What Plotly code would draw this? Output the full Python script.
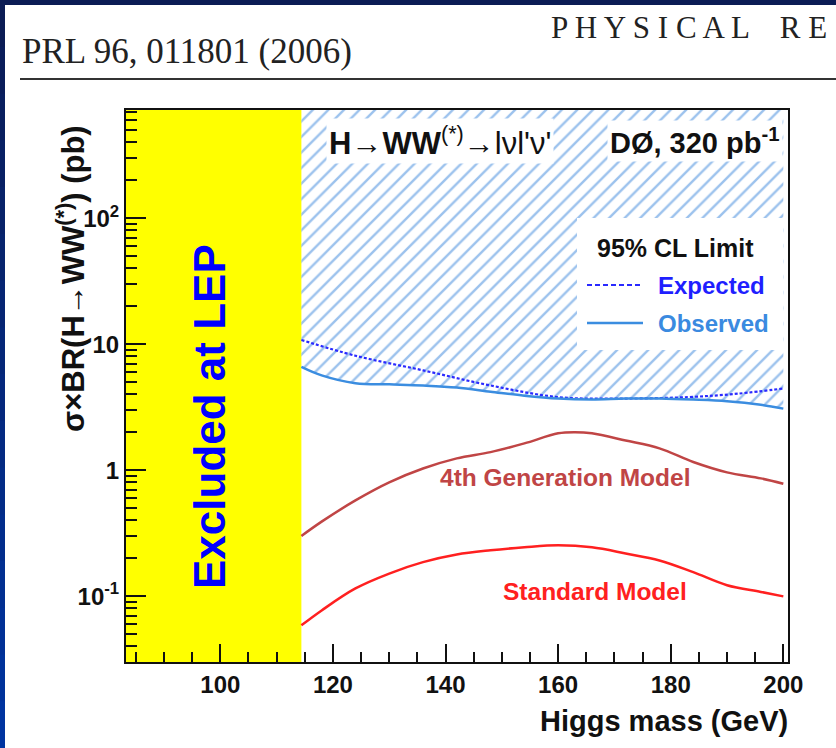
import plotly.graph_objects as go

# ---- data (Higgs mass in GeV, cross section x BR in pb) ----
mass_obs = [114.4, 118, 124, 130, 136, 142, 148, 154, 160, 166, 172, 178, 184, 190, 196, 200]
obs_limit = [6.6, 5.65, 4.9, 4.8, 4.7, 4.53, 4.2, 3.9, 3.7, 3.64, 3.7, 3.7, 3.63, 3.52, 3.3, 3.08]

mass_exp = [114.4, 124, 136, 148, 160, 171, 183, 192, 200]
exp_limit = [10.8, 8.1, 6.2, 4.7, 3.8, 3.7, 3.8, 4.05, 4.45]

mass_4th = [114.4, 118, 124, 130, 136, 142, 148, 154, 160, 163, 166, 172, 178, 184, 190, 196, 200]
xsec_4th = [0.30, 0.39, 0.575, 0.80, 1.03, 1.24, 1.39, 1.63, 1.96, 2.0, 1.96, 1.72, 1.49, 1.16, 0.96, 0.86, 0.78]

mass_sm = [114.4, 118, 124, 130, 136, 142, 148, 154, 160, 166, 172, 178, 184, 190, 196, 200]
xsec_sm = [0.0586, 0.077, 0.115, 0.151, 0.186, 0.214, 0.231, 0.244, 0.253, 0.244, 0.218,
           0.192, 0.155, 0.122, 0.108, 0.0995]

lep_limit = 114.4
x_range = [83.25, 200.83]
y_range_log = [-1.523, 2.859]

x_tickvals = [100, 120, 140, 160, 180, 200]
x_minor = [v for v in range(85, 201, 5) if v not in x_tickvals]
y_tickvals = [0.1, 1, 10, 100]
y_ticktext = ["10<sup>-1</sup>", "1", "10", "10<sup>2</sup>"]
y_minor = [k * 10.0 ** e for e in range(-2, 3) for k in range(2, 10)]

# ---- page geometry ----
W, H = 836, 748
ML, MR, MT, MB = 126, 48, 110, 86
PW, PH = W - ML - MR, H - MT - MB


def pxx(p):
    return (p - ML) / PW


def pxy(p):
    return (H - MB - p) / PH


SANS = "Liberation Sans, Arial, Helvetica, sans-serif"
SERIF = "Liberation Serif, Times New Roman, serif"

fig = go.Figure()

# upper edge of the excluded (hatched) region
fig.add_trace(go.Scatter(x=[lep_limit, mass_obs[-1]], y=[1e3, 1e3], mode="lines",
                         line=dict(width=0, color="rgba(0,0,0,0)"), hoverinfo="skip"))
# hatched area above the observed limit
fig.add_trace(go.Scatter(x=mass_obs, y=obs_limit, mode="lines", line_shape="spline",
                         line=dict(width=0, color="rgba(0,0,0,0)"),
                         fill="tonexty", fillcolor="rgba(255,255,255,0)",
                         fillpattern=dict(shape="/", size=11, solidity=0.22,
                                          fgcolor="#3a86dc", bgcolor="rgba(255,255,255,0)"),
                         hoverinfo="skip"))
# limits
fig.add_trace(go.Scatter(x=mass_exp, y=exp_limit, mode="lines", line_shape="spline",
                         line=dict(color="#2a2aff", width=2.2, dash="3px,2px")))
fig.add_trace(go.Scatter(x=mass_obs, y=obs_limit, mode="lines", line_shape="spline",
                         line=dict(color="#3b8de0", width=2.5)))
# model predictions
fig.add_trace(go.Scatter(x=mass_4th, y=xsec_4th, mode="lines", line_shape="spline",
                         line=dict(color="#c04545", width=2.5)))
fig.add_trace(go.Scatter(x=mass_sm, y=xsec_sm, mode="lines", line_shape="spline",
                         line=dict(color="#ff2020", width=2.5)))

shapes = []
# LEP exclusion band
shapes.append(dict(type="rect", xref="x", yref="paper", x0=x_range[0], x1=lep_limit,
                   y0=0, y1=1, fillcolor="#ffff00", line=dict(width=0), layer="below"))
# legend panel
shapes.append(dict(type="rect", xref="paper", yref="paper", x0=pxx(577), x1=pxx(783),
                   y0=pxy(350), y1=pxy(218), fillcolor="white", line=dict(width=0),
                   layer="above"))
shapes.append(dict(type="line", xref="paper", yref="paper", x0=pxx(587), x1=pxx(642),
                   y0=pxy(285), y1=pxy(285),
                   line=dict(color="#2a2aff", width=2.2, dash="5px,3px"), layer="above"))
shapes.append(dict(type="line", xref="paper", yref="paper", x0=pxx(587), x1=pxx(643),
                   y0=pxy(323), y1=pxy(323),
                   line=dict(color="#3b8de0", width=2.5), layer="above"))
# journal header rule
shapes.append(dict(type="line", xref="paper", yref="paper", x0=pxx(20), x1=pxx(W),
                   y0=pxy(79), y1=pxy(79), line=dict(color="#333333", width=2)))
# slide frame: top bar and shaded left bar
shapes.append(dict(type="rect", xref="paper", yref="paper", x0=pxx(0), x1=pxx(W),
                   y0=pxy(5), y1=pxy(0), fillcolor="#0b1c55", line=dict(width=0)))
nseg = 16
c0, c1 = (11, 28, 85), (0, 52, 160)
for i in range(nseg):
    t = i / (nseg - 1)
    col = "rgb({},{},{})".format(*[int(a + (b - a) * t) for a, b in zip(c0, c1)])
    shapes.append(dict(type="rect", xref="paper", yref="paper", x0=pxx(0), x1=pxx(5),
                       y0=pxy(H * (i + 1) / nseg + 1), y1=pxy(H * i / nseg),
                       fillcolor=col, line=dict(width=0)))

annotations = [
    dict(text="PRL 96, 011801 (2006)", xref="paper", yref="paper", x=pxx(20), y=pxy(51),
         xanchor="left", yanchor="middle", showarrow=False,
         font=dict(family=SERIF, size=35, color="#222222")),
    dict(text="P H Y S I C A L \u00a0\u00a0\u00a0R E", xref="paper", yref="paper",
         x=pxx(549), y=pxy(27), xanchor="left", yanchor="middle", showarrow=False,
         font=dict(family=SERIF, size=31, color="#222222")),
    dict(text="σ×BR(H→WW<sup>(*)</sup>) (pb)", xref="paper", yref="paper",
         x=pxx(71), y=pxy(279), xanchor="center", yanchor="middle", textangle=-90,
         showarrow=False, font=dict(family=SANS, size=31, color="#111111", weight="bold")),
    dict(text="Higgs mass (GeV)", xref="paper", yref="paper", x=pxx(790), y=pxy(721),
         xanchor="right", yanchor="middle", showarrow=False,
         font=dict(family=SANS, size=29, color="#111111", weight="bold")),
    dict(text="Excluded at LEP", xref="paper", yref="paper", x=pxx(209), y=pxy(417),
         xanchor="center", yanchor="middle", textangle=-90, showarrow=False,
         font=dict(family=SANS, size=44, color="#0000ff", weight="bold")),
    dict(text="<b>H</b>→<b>WW</b><sup>(*)</sup>→lνl'ν'", xref="paper", yref="paper",
         x=pxx(440), y=pxy(141), xanchor="center", yanchor="middle", showarrow=False,
         bgcolor="white", borderpad=2,
         font=dict(family=SANS, size=31, color="#111111")),
    dict(text="DØ, 320 pb<sup>-1</sup>", xref="paper", yref="paper", x=pxx(783),
         y=pxy(141), xanchor="right", yanchor="middle", showarrow=False,
         bgcolor="white", borderpad=2,
         font=dict(family=SANS, size=29, color="#111111", weight="bold")),
    dict(text="95% CL Limit", xref="paper", yref="paper", x=pxx(675), y=pxy(248),
         xanchor="center", yanchor="middle", showarrow=False,
         font=dict(family=SANS, size=25, color="#111111", weight="bold")),
    dict(text="Expected", xref="paper", yref="paper", x=pxx(656), y=pxy(285),
         xanchor="left", yanchor="middle", showarrow=False,
         font=dict(family=SANS, size=24, color="#1f1fff", weight="bold")),
    dict(text="Observed", xref="paper", yref="paper", x=pxx(656), y=pxy(323),
         xanchor="left", yanchor="middle", showarrow=False,
         font=dict(family=SANS, size=24, color="#3a8ae0", weight="bold")),
    dict(text="4th Generation Model", xref="paper", yref="paper", x=pxx(565), y=pxy(477),
         xanchor="center", yanchor="middle", showarrow=False,
         font=dict(family=SANS, size=24.5, color="#c04545", weight="bold")),
    dict(text="Standard Model", xref="paper", yref="paper", x=pxx(595), y=pxy(591),
         xanchor="center", yanchor="middle", showarrow=False,
         font=dict(family=SANS, size=24.5, color="#ff2020", weight="bold")),
]

axis_common = dict(showline=True, linecolor="#111111", linewidth=2, mirror=True,
                   ticks="inside", tickcolor="#111111", tickwidth=2,
                   showgrid=False, zeroline=False,
                   tickfont=dict(family=SANS, size=24, color="#111111", weight="bold"))

fig.update_xaxes(range=x_range, tickmode="array", tickvals=x_tickvals, ticklen=18,
                 minor=dict(tickmode="array", tickvals=x_minor, ticks="inside", ticklen=10,
                            tickcolor="#111111", tickwidth=2),
                 **axis_common)
fig.update_yaxes(type="log", range=y_range_log, tickmode="array", tickvals=y_tickvals,
                 ticktext=y_ticktext, ticklen=20,
                 minor=dict(tickmode="array", tickvals=y_minor, ticks="inside", ticklen=11,
                            tickcolor="#111111", tickwidth=2),
                 **axis_common)

fig.update_layout(width=W, height=H, margin=dict(l=ML, r=MR, t=MT, b=MB, pad=0),
                  paper_bgcolor="white", plot_bgcolor="white", showlegend=False,
                  shapes=shapes, annotations=annotations)

fig.write_html("out.html")
